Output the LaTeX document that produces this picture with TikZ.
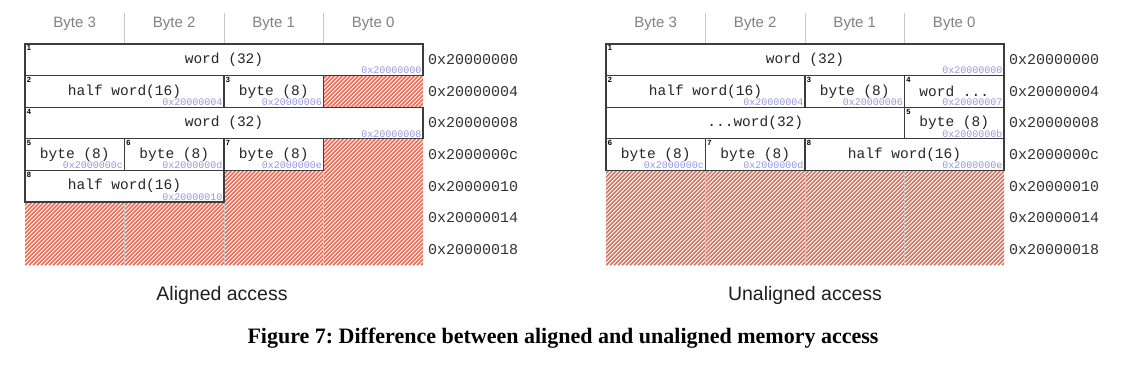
\documentclass[tikz,border=0pt]{standalone}
\usepackage{fontspec}
\setmainfont{Liberation Serif}
\newfontfamily\monof{Liberation Mono}
\newfontfamily\sansf{Liberation Sans}
\frenchspacing
\definecolor{hatchred}{RGB}{228,112,92}
\definecolor{gridgray}{RGB}{200,200,200}
\definecolor{boxline}{RGB}{60,60,60}
\definecolor{addrblue}{RGB}{150,150,225}
\definecolor{headgray}{RGB}{130,130,130}
\tikzset{
  cellbox/.style={draw=boxline, line width=1.2bp, fill=white, rectangle, inner sep=0pt, outer sep=0pt,
    minimum height=31.6bp, text=black!85, font=\monof\fontsize{14.5bp}{17bp}\selectfont},
  idx/.style={inner sep=1.6bp, font=\sansf\bfseries\fontsize{7.5bp}{8bp}\selectfont, text=black},
  addr/.style={inner sep=1.4bp, font=\monof\fontsize{10bp}{11bp}\selectfont, text=addrblue},
  rowaddr/.style={anchor=west, inner sep=0pt, font=\monof\fontsize{15bp}{17bp}\selectfont, text=black!80},
  bytehead/.style={inner sep=0pt, font=\sansf\fontsize{15bp}{17bp}\selectfont, text=headgray},
  colline/.style={draw=gridgray, line width=1bp},
  hatchline/.style={draw=hatchred, line width=1.5bp},
  subcap/.style={inner sep=0pt, font=\sansf\fontsize{19.5bp}{22bp}\selectfont, text=black!88},
  figcap/.style={inner sep=0pt, anchor=base, font=\bfseries\fontsize{22bp}{26bp}\selectfont, text=black}
}
\newcommand{\mcell}[7]{%
  \node[cellbox, minimum width=#3*99.5bp, anchor=north west] (#1) at (#2,#4) {#6};
  \node[idx, anchor=north west] (#1i) at (#1.north west) {#5};
  \node[addr, anchor=south east] (#1a) at (#1.south east) {#7};
}
\newcommand{\hatcharea}[4]{%
  \begin{scope}
    \clip (#1,#2) rectangle (#3,#4);
    \foreach \k in {-200,-196,...,420} {\draw[hatchline] (#1+\k,#4) -- ++(200,-200);}
  \end{scope}
}
\begin{document}
\begin{tikzpicture}[x=1bp,y=-1bp]
\useasboundingbox[fill=white] (0,0) rectangle (1130,366);

% ---------------- hatched free memory ----------------
\hatcharea{25}{75.6}{423}{265.2}
\hatcharea{606}{170.4}{1004}{265.2}

% ---------------- column lines and byte headers ----------------
\foreach \x in {124.5,224,323.5} {\draw[colline] (\x,13) -- (\x,265.2);}
\foreach \x in {705.5,805,904.5} {\draw[colline] (\x,13) -- (\x,265.2);}

\node[bytehead] (lh3) at (74.75,24) {Byte 3};
\node[bytehead] (lh2) at (174.25,24) {Byte 2};
\node[bytehead] (lh1) at (273.75,24) {Byte 1};
\node[bytehead] (lh0) at (373.25,24) {Byte 0};
\node[bytehead] (rh3) at (655.75,24) {Byte 3};
\node[bytehead] (rh2) at (755.25,24) {Byte 2};
\node[bytehead] (rh1) at (854.75,24) {Byte 1};
\node[bytehead] (rh0) at (954.25,24) {Byte 0};

% ---------------- aligned access ----------------
\mcell{L1}{25}{4}{44}{1}{word (32)}{0x20000000}
\mcell{L2}{25}{2}{75.6}{2}{half word(16)}{0x20000004}
\mcell{L3}{224}{1}{75.6}{3}{byte (8)}{0x20000006}
\mcell{L4}{25}{4}{107.2}{4}{word (32)}{0x20000008}
\mcell{L5}{25}{1}{138.8}{5}{byte (8)}{0x2000000c}
\mcell{L6}{124.5}{1}{138.8}{6}{byte (8)}{0x2000000d}
\mcell{L7}{224}{1}{138.8}{7}{byte (8)}{0x2000000e}
\mcell{L8}{25}{2}{170.4}{8}{half word(16)}{0x20000010}

% ---------------- unaligned access ----------------
\mcell{R1}{606}{4}{44}{1}{word (32)}{0x20000000}
\mcell{R2}{606}{2}{75.6}{2}{half word(16)}{0x20000004}
\mcell{R3}{805}{1}{75.6}{3}{byte (8)}{0x20000006}
\mcell{R4}{904.5}{1}{75.6}{4}{word ...}{0x20000007}
\node[cellbox, minimum width=298.5bp, anchor=north west] (Rw) at (606,107.2) {...word(32)};
\mcell{R5}{904.5}{1}{107.2}{5}{byte (8)}{0x2000000b}
\mcell{R6}{606}{1}{138.8}{6}{byte (8)}{0x2000000c}
\mcell{R7}{705.5}{1}{138.8}{7}{byte (8)}{0x2000000d}
\mcell{R8}{805}{2}{138.8}{8}{half word(16)}{0x2000000e}

% ---------------- row addresses ----------------
\foreach \i/\a in {0/0x20000000,1/0x20000004,2/0x20000008,3/0x2000000c,4/0x20000010,5/0x20000014,6/0x20000018} {
  \node[rowaddr] (la\i) at (428,59.8+\i*31.6) {\a};
  \node[rowaddr] (ra\i) at (1009,59.8+\i*31.6) {\a};
}

% ---------------- captions ----------------
\node[subcap] (capL) at (222,295) {Aligned access};
\node[subcap] (capR) at (805,295) {Unaligned access};
\node[figcap] (fig) at (563,343) {Figure 7: Difference between aligned and unaligned memory access};
\end{tikzpicture}
\end{document}
